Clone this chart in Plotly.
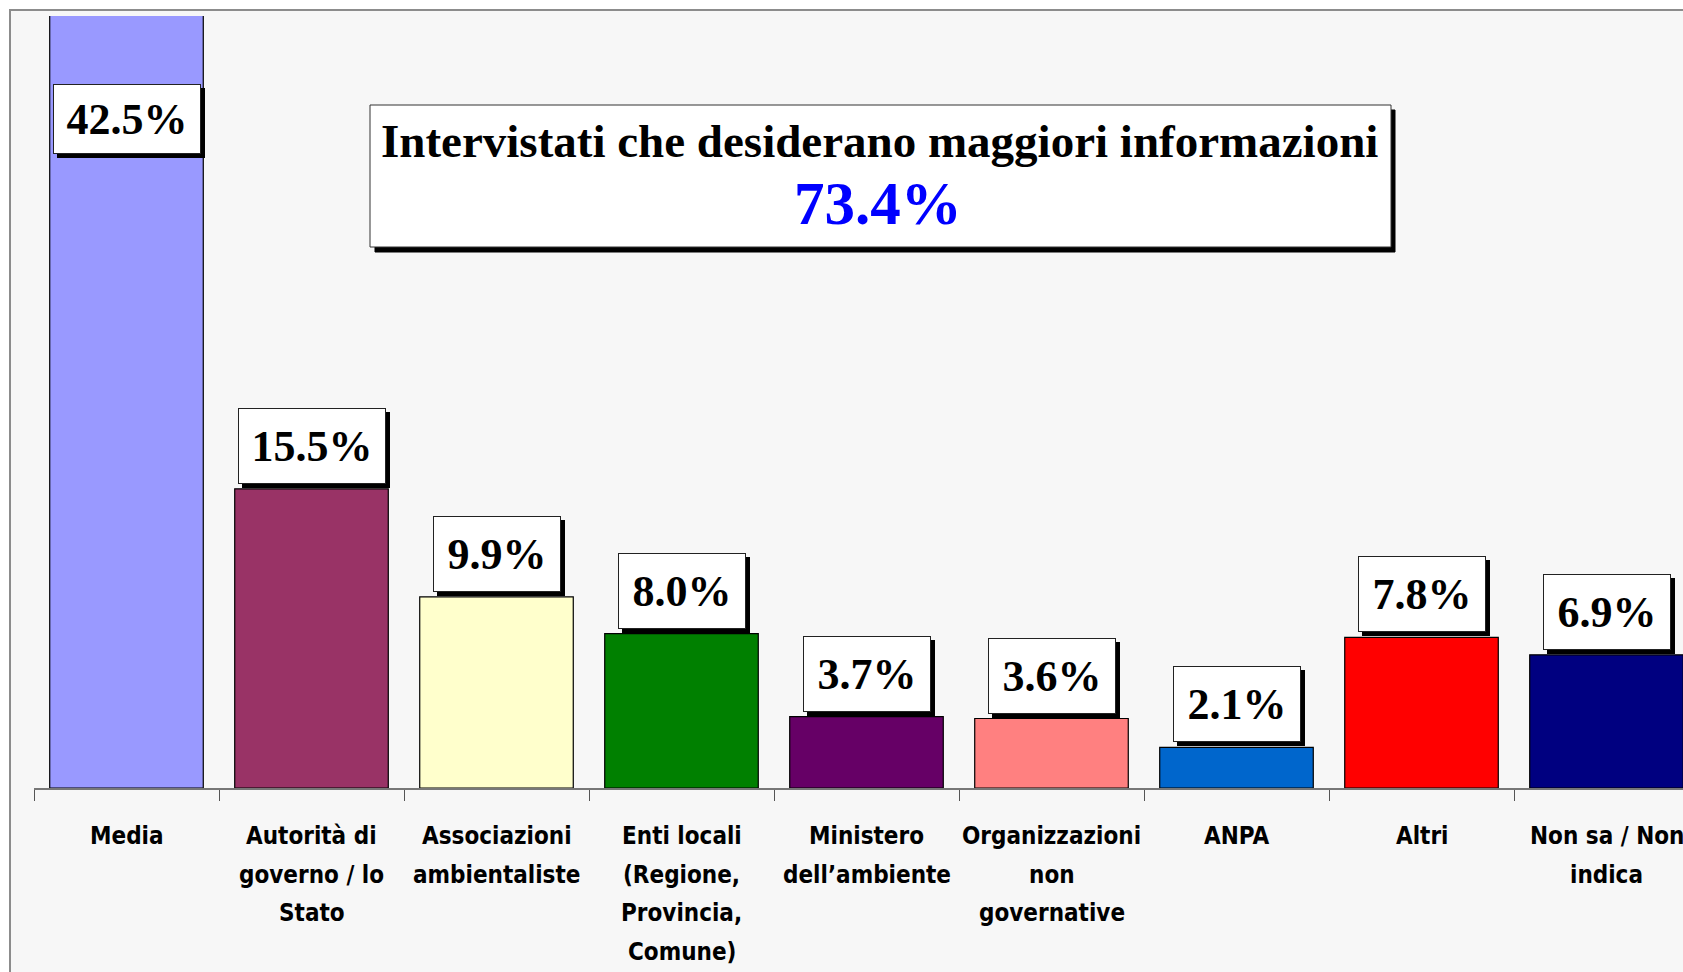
import plotly.graph_objects as go

# ---- data ----
categories = [
    "Media",
    "Autorità di<br>governo / lo<br>Stato",
    "Associazioni<br>ambientaliste",
    "Enti locali<br>(Regione,<br>Provincia,<br>Comune)",
    "Ministero<br>dell’ambiente",
    "Organizzazioni<br>non<br>governative",
    "ANPA",
    "Altri",
    "Non sa / Non<br>indica",
]
values = [42.5, 15.5, 9.9, 8.0, 3.7, 3.6, 2.1, 7.8, 6.9]
value_labels = ["42.5%", "15.5%", "9.9%", "8.0%", "3.7%", "3.6%", "2.1%", "7.8%", "6.9%"]
bar_colors = ["#9999FF", "#993366", "#FFFFCC", "#008000", "#660066",
              "#FF8080", "#0066CC", "#FF0000", "#000080"]
title_line1 = "Intervistati che desiderano maggiori informazioni"
title_line2 = "73.4%"

# ---- layout geometry (page pixels; body margin removed by post_script) ----
OFF = 0
W, H = 1683 - OFF, 972 - OFF
ML, MR, MT = 34 - OFF, 0, 16 - OFF
AXIS_Y = 788 - OFF
MB = H - AXIS_Y
PW, PH = W - ML - MR, H - MT - MB
CAT_PX = 185.0
Y_MAX = 40
x_range = [-0.5, -0.5 + PW / CAT_PX]
LABEL_CAP = 32.6  # where the label sits when the bar runs off the top
CAT_LABEL_TOP = 836   # page px of first line centre
CAT_LINE_STEP = 38.5  # page px between lines


def px_x(px):
    return (px - OFF - ML) / PW


def px_y(py):
    return (H - MB - (py - OFF)) / PH


fig = go.Figure()
fig.add_trace(go.Bar(
    x=categories,
    y=values,
    marker=dict(color=bar_colors, line=dict(color="black", width=1.2)),
    width=0.83,
    hoverinfo="skip",
))

annotations = []
for cat, v, t in zip(categories, values, value_labels):
    yl = min(v, LABEL_CAP)
    w = 146 if len(t) > 4 else 126
    h = 68 if v > LABEL_CAP else 74
    common = dict(x=cat, y=yl, xref="x", yref="y", xanchor="center", yanchor="bottom",
                  showarrow=False, width=w, height=h, borderpad=0, borderwidth=1)
    # shadow
    annotations.append(dict(text="", bgcolor="black", bordercolor="black",
                            xshift=4, yshift=1, **common))
    annotations.append(dict(text=t, bgcolor="white", bordercolor="#222222",
                            xshift=0, yshift=5,
                            font=dict(family="Liberation Serif", size=44, color="black",
                                      weight="bold"),
                            **common))

# category labels, one line each for Excel-like line spacing
for cat in categories:
    for k, line in enumerate(cat.split("<br>")):
        annotations.append(dict(
            text=line, x=cat, xref="x", yref="paper",
            y=px_y(CAT_LABEL_TOP + k * CAT_LINE_STEP),
            xanchor="center", yanchor="middle", showarrow=False,
            font=dict(family="DejaVu Sans Condensed", size=24, color="black",
                      weight="bold")))

# title box text
annotations.append(dict(
    text=title_line1, xref="paper", yref="paper", x=px_x(880), y=px_y(141),
    xanchor="center", yanchor="middle", showarrow=False,
    font=dict(family="Liberation Serif", size=47, color="black", weight="bold")))
annotations.append(dict(
    text=title_line2, xref="paper", yref="paper", x=px_x(878), y=px_y(204),
    xanchor="center", yanchor="middle", showarrow=False,
    font=dict(family="Liberation Serif", size=61, color="#0000FF", weight="bold")))

shapes = [
    # outer frame / background
    dict(type="rect", xref="paper", yref="paper", layer="below",
         x0=px_x(10), x1=px_x(1683 + 20), y0=px_y(972 + 20), y1=px_y(10),
         fillcolor="#F7F7F7", line=dict(color="#8C8C8C", width=2)),
    # title box shadow
    dict(type="rect", xref="paper", yref="paper",
         x0=px_x(375), x1=px_x(1395), y0=px_y(252), y1=px_y(110),
         fillcolor="black", line=dict(color="black", width=1)),
    # title box
    dict(type="rect", xref="paper", yref="paper",
         x0=px_x(370), x1=px_x(1391), y0=px_y(247), y1=px_y(105),
         fillcolor="white", line=dict(color="#333333", width=1)),
]

fig.update_layout(
    width=W, height=H,
    margin=dict(l=ML, r=MR, t=MT, b=MB, pad=0),
    paper_bgcolor="white",
    plot_bgcolor="rgba(0,0,0,0)",
    showlegend=False,
    annotations=annotations,
    shapes=shapes,
    xaxis=dict(
        type="category",
        range=x_range,
        tickson="boundaries",
        showticklabels=False,
        ticks="outside", ticklen=11, tickcolor="#555555", tickwidth=1,
        showline=True, linecolor="#777777", linewidth=1.5,
        showgrid=False, zeroline=False,
        automargin=False,
        fixedrange=True,
    ),
    yaxis=dict(
        range=[0, Y_MAX],
        showticklabels=False, showgrid=False, zeroline=False, showline=False,
        ticks="", automargin=False, fixedrange=True,
    ),
)

fig.write_html(
    "out.html",
    config={"displayModeBar": False, "staticPlot": True},
    post_script="document.body.style.margin='0';document.body.style.overflow='hidden';",
)
